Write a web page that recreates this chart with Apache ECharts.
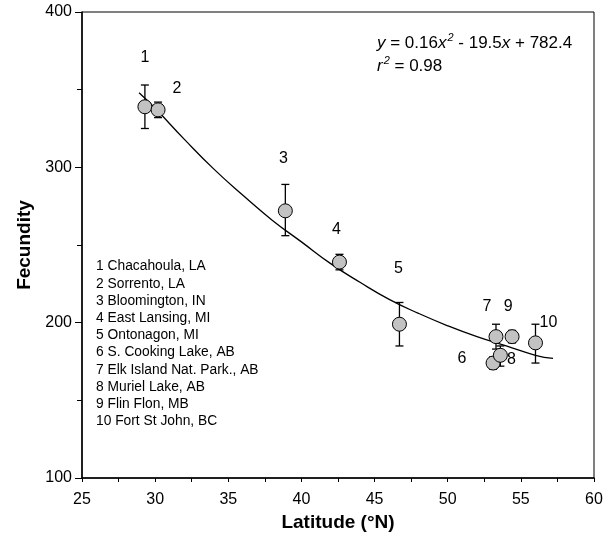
<!DOCTYPE html>
<html lang="en">
<head>
  <meta charset="UTF-8">
  <title>Fecundity vs Latitude</title>
  <script src="https://cdn.jsdelivr.net/npm/echarts@6/dist/echarts.min.js"></script>
  <style>
    html, body { margin: 0; padding: 0; background: #fff; }
    #chart { width: 611px; height: 543px; }
  </style>
</head>
<body>
  <div id="chart"></div>
<script>
  // site list, numbered 1..10
  const siteNames = [
    'Chacahoula, LA', 'Sorrento, LA', 'Bloomington, IN', 'East Lansing, MI',
    'Ontonagon, MI', 'S. Cooking Lake, AB', 'Elk Island Nat. Park., AB',
    'Muriel Lake, AB', 'Flin Flon, MB', 'Fort St John, BC'
  ];
  const latitude  = [29.3, 30.2, 38.9, 42.6, 46.7, 53.1, 53.3, 53.6, 54.4, 56.0];
  const fecundity = [339, 337, 272, 239, 199, 174, 191, 179, 191, 187];
  const errHigh   = [353, 342, 289, 244, 213, 178, 199, 185, 195, 199];
  const errLow    = [325, 332, 256, 234, 185, 170, 183, 172, 187, 174];

  // fitted curve
  const fitLat = [28.9, 30, 32, 34, 36, 38, 40, 42, 44, 46, 48, 50, 52, 54, 56, 57.2];
  const fitFec = [348, 338, 318, 299, 282, 266, 252, 238, 226, 215, 206, 198, 191, 185, 179, 177];

  const xTicks = { min: 25, max: 60, step: 5 };
  const yTicks = { min: 100, max: 400, step: 100 };

  // label offsets (px) of the site numbers around each point
  const labelOffsets = [[0, -49], [19, -21], [-2, -52], [-3, -32], [-1, -56],
                        [-31, -4], [-9, -30], [11, 4], [-4, -30], [13, -20]];

  const FONT = '"Liberation Sans", Arial, Helvetica, sans-serif';
  const chart = echarts.init(document.getElementById('chart'));

  chart.setOption({
    animation: false,
    textStyle: { fontFamily: FONT, color: '#000' },
    grid: {
      left: 82, right: 17, top: 12, bottom: 65,
      show: true, borderColor: '#000', borderWidth: 1
    },
    xAxis: {
      type: 'value',
      min: xTicks.min, max: xTicks.max, interval: xTicks.step,
      name: 'Latitude (°N)',
      nameLocation: 'middle',
      nameGap: 35,
      nameTextStyle: { fontSize: 19, fontWeight: 'bold', color: '#000', fontFamily: FONT },
      axisLine: { lineStyle: { color: '#000', width: 1.5 } },
      axisTick: { length: 4, lineStyle: { color: '#000' } },
      minorTick: { show: true, splitNumber: 2, length: 4, lineStyle: { color: '#000' } },
      axisLabel: { fontSize: 16, color: '#000', margin: 14, fontFamily: FONT },
      splitLine: { show: false }
    },
    yAxis: {
      type: 'value',
      min: yTicks.min, max: yTicks.max, interval: yTicks.step,
      name: 'Fecundity',
      nameLocation: 'middle',
      nameGap: 47,
      nameTextStyle: { fontSize: 19, fontWeight: 'bold', color: '#000', fontFamily: FONT },
      axisLine: { lineStyle: { color: '#000', width: 1.5 } },
      axisTick: { length: 7, lineStyle: { color: '#000' } },
      minorTick: { show: true, splitNumber: 2, length: 5, lineStyle: { color: '#000' } },
      axisLabel: { fontSize: 16, color: '#000', margin: 10, fontFamily: FONT },
      splitLine: { show: false }
    },
    series: [
      {
        name: 'fit',
        type: 'line',
        data: fitLat.map((x, i) => [x, fitFec[i]]),
        smooth: true,
        showSymbol: false,
        lineStyle: { color: '#000', width: 1.3 },
        z: 1
      },
      {
        name: 'error',
        type: 'custom',
        data: latitude.map((x, i) => [x, errLow[i], errHigh[i]]),
        encode: { x: 0, y: [1, 2] },
        renderItem: function (params, api) {
          const top = api.coord([api.value(0), api.value(2)]);
          const bot = api.coord([api.value(0), api.value(1)]);
          const w = 4;
          const style = { stroke: '#000', lineWidth: 1.3 };
          return {
            type: 'group',
            children: [
              { type: 'line', shape: { x1: top[0], y1: top[1], x2: bot[0], y2: bot[1] }, style: style },
              { type: 'line', shape: { x1: top[0] - w, y1: top[1], x2: top[0] + w, y2: top[1] }, style: style },
              { type: 'line', shape: { x1: bot[0] - w, y1: bot[1], x2: bot[0] + w, y2: bot[1] }, style: style }
            ]
          };
        },
        z: 2
      },
      {
        name: 'sites',
        type: 'scatter',
        symbol: 'circle',
        symbolSize: 14,
        data: latitude.map((x, i) => ({
          value: [x, fecundity[i]],
          label: { offset: labelOffsets[i] }
        })),
        itemStyle: { color: '#c2c2c2', borderColor: '#000', borderWidth: 1, opacity: 1 },
        label: {
          show: true,
          position: 'inside',
          formatter: p => String(p.dataIndex + 1),
          fontSize: 16,
          color: '#000',
          fontFamily: FONT
        },
        z: 3
      }
    ],
    graphic: [
      {
        type: 'text',
        left: 96,
        top: 258,
        style: {
          text: siteNames.map((s, i) => (i + 1) + ' ' + s).join('\n'),
          font: '13.8px ' + FONT,
          lineHeight: 17.2,
          fill: '#000'
        }
      },
      {
        type: 'text',
        left: 377,
        top: 32,
        style: {
          text: '{i|y} = 0.16{i|x}{s|2} - 19.5{i|x} + 782.4\n{i|r}{s|2} = 0.98',
          font: '17px ' + FONT,
          lineHeight: 23,
          fill: '#000',
          rich: {
            i: { fontStyle: 'italic', fontSize: 17, fontFamily: FONT, lineHeight: 23 },
            s: { fontStyle: 'italic', fontSize: 11, fontFamily: FONT, verticalAlign: 'top', lineHeight: 23, padding: [0, 0, 9, 1] }
          }
        }
      }
    ]
  });
</script>
</body>
</html>
